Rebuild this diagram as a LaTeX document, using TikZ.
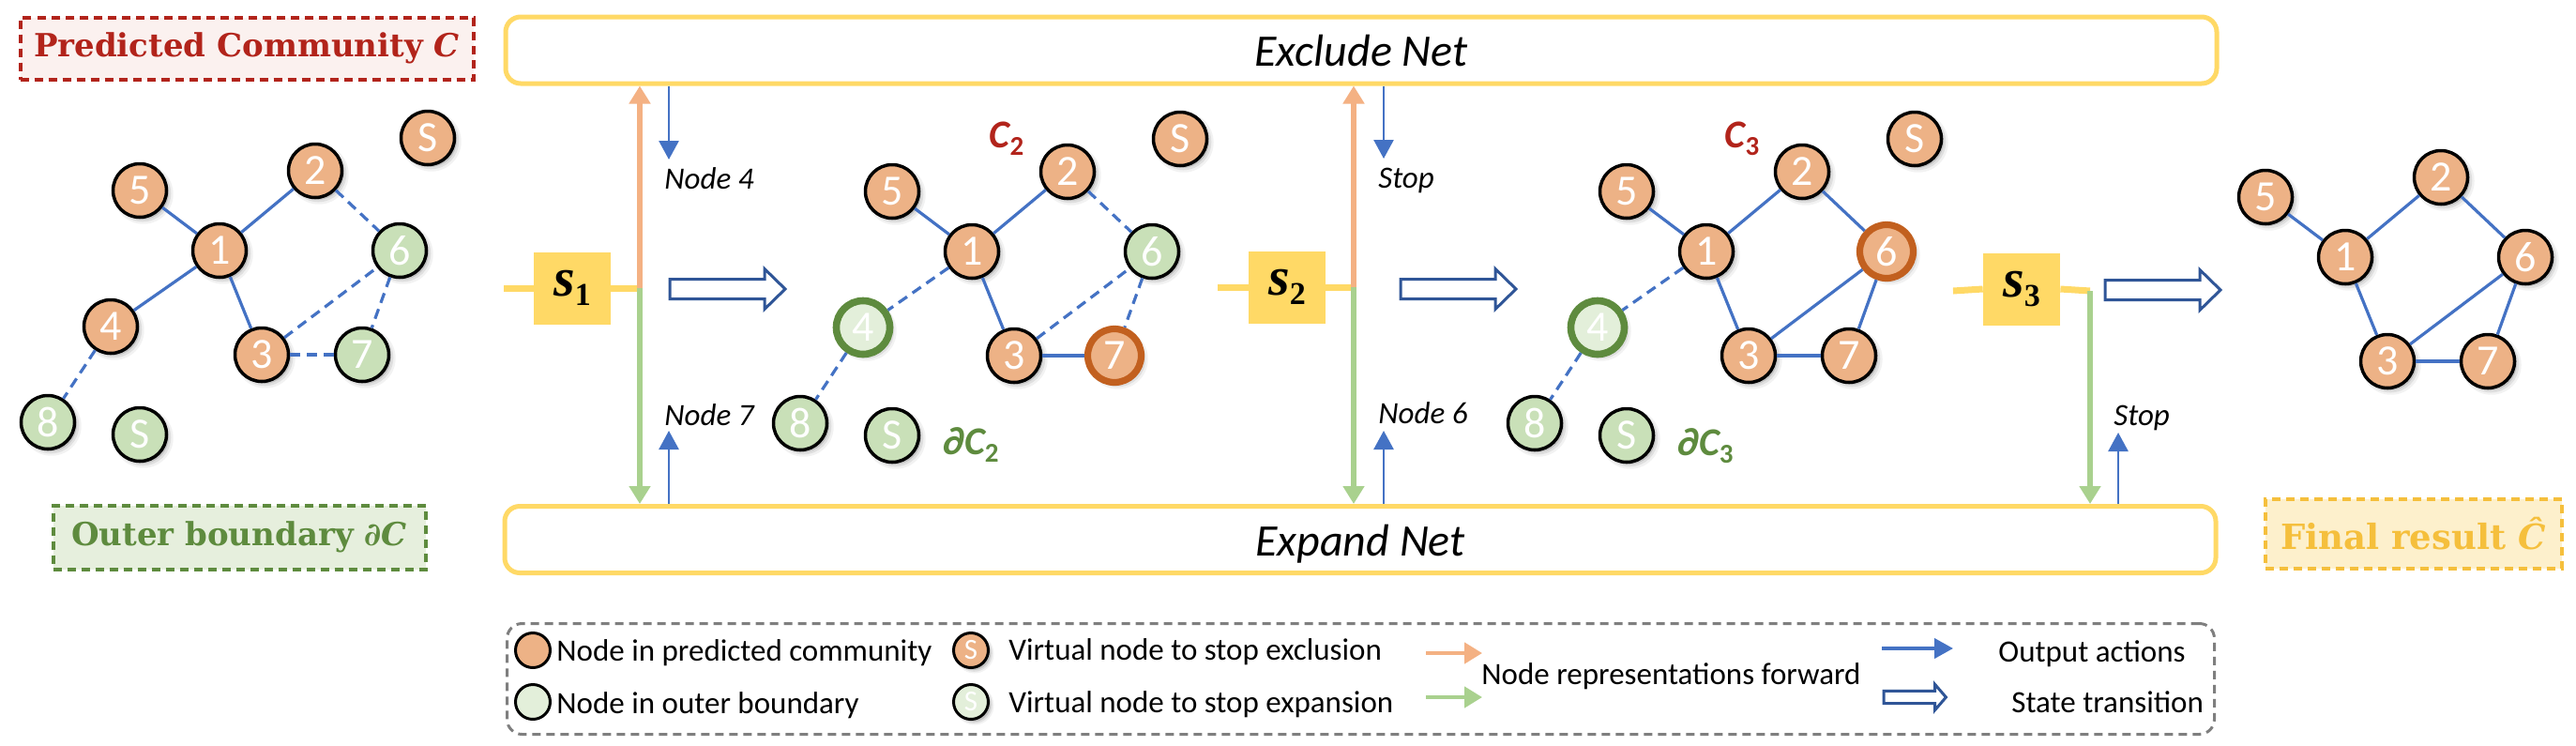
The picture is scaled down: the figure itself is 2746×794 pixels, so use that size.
\documentclass[tikz,border=0pt]{standalone}
\usepackage{fontspec}
\setmainfont{Carlito}
\newfontfamily\dvsfont{DejaVu Serif}
\newfontfamily\libfont{Liberation Serif}
\usetikzlibrary{arrows.meta,shadows,calc}

\definecolor{norange}{HTML}{EDB286}
\definecolor{ngreen}{HTML}{C9E0B8}
\definecolor{nlgreen}{HTML}{E3EFDA}
\definecolor{dgreen}{HTML}{5E8B3E}
\definecolor{dorange}{HTML}{C2601F}
\definecolor{eblue}{HTML}{4472C4}
\definecolor{dblue}{HTML}{2F5597}
\definecolor{ygold}{HTML}{FFD966}
\definecolor{dred}{HTML}{B2241B}
\definecolor{arrorange}{HTML}{F4B183}
\definecolor{arrgreen}{HTML}{A9D18E}
\definecolor{fgold}{HTML}{F5BF3C}
\definecolor{ffill}{HTML}{FDF0CC}
\definecolor{pfill}{HTML}{FBF1EF}
\definecolor{gfill}{HTML}{E6EFDD}
\definecolor{lgray}{HTML}{7F7F7F}

\newcommand\setfs[1]{\fontsize{#1}{#1}\selectfont}
\newcommand\mlab[2]{{\itshape #1}\raisebox{-4pt}{\upshape\setfs{14.5pt}#2}}

\tikzset{
  softshadow/.style={
    drop shadow={shadow xshift=1.7pt,shadow yshift=-1.7pt,shadow scale=1.12,opacity=.05,fill=black},
    drop shadow={shadow xshift=1.6pt,shadow yshift=-1.6pt,shadow scale=1.05,opacity=.08,fill=black},
    drop shadow={shadow xshift=1.4pt,shadow yshift=-1.4pt,shadow scale=0.99,opacity=.12,fill=black}},
  gnode/.style={circle, draw=black, line width=1.75pt, minimum size=28.5pt, inner sep=0pt,
    text=white, font=\setfs{23pt}, softshadow},
  pnode/.style={gnode, fill=norange},
  bnode/.style={gnode, fill=ngreen},
  pselnode/.style={gnode, fill=norange, draw=dorange, line width=3.6pt},
  bselnode/.style={gnode, fill=nlgreen, draw=dgreen, line width=3.8pt},
  edge/.style={eblue, line width=1.6pt},
  dedge/.style={edge, dash pattern=on 5.5pt off 3.5pt},
  sbox/.style={fill=ygold, minimum width=41pt, minimum height=38.5pt, inner sep=0pt},
  yline/.style={ygold, line width=3.5pt},
  netbox/.style={draw=ygold, line width=2.5pt, rounded corners=8pt, fill=white,
    minimum width=912pt, minimum height=35.5pt, inner sep=0pt},
  nettext/.style={font=\itshape\setfs{24pt}, anchor=base, inner sep=0pt},
  oarr/.style={arrorange, line width=2.6pt, -{Triangle[width=11pt,length=9.5pt]}},
  garr/.style={arrgreen, line width=2.6pt, -{Triangle[width=11pt,length=9.5pt]}},
  barr/.style={eblue, line width=1.3pt, -{Triangle[width=10.5pt,length=10pt]}},
  hollow/.style={draw=dblue, line width=1.5pt, fill=white, line join=miter},
  actlab/.style={font=\itshape\setfs{16.5pt}, anchor=base west, inner sep=0pt},
  leg/.style={font=\setfs{16.5pt}, anchor=base west, inner sep=0pt},
  tagbox/.style={line width=2pt, dash pattern=on 4.5pt off 3pt, inner sep=0pt,
    font=\dvsfont\bfseries\setfs{17pt}},
  legnode/.style={circle, draw=black, line width=1.5pt, minimum size=18.5pt, inner sep=0pt},
  legS/.style={legnode, softshadow, text=white, font=\setfs{15.5pt}},
  statearrow/.pic={\draw[hollow] (0,-10.5) -- (101,-10.5) -- (101,-21.5) -- (123,0)
     -- (101,21.5) -- (101,10.5) -- (0,10.5) -- cycle;}
}

\begin{document}
\begin{tikzpicture}[x=0.5pt,y=-0.5pt]
\useasboundingbox (0,0) rectangle (2746,794);
\fill[white] (0,0) rectangle (2746,794);

% ---- side labels
\node[tagbox, draw=dred, fill=pfill, text=dred, minimum width=241.5pt, minimum height=33pt]
  (pc) at (263,51.5) {Predicted Community {\itshape C}};
\node[tagbox, draw=dgreen, fill=gfill, text=dgreen, minimum width=198.5pt, minimum height=34pt]
  (ob) at (255,572.5) {Outer boundary {\itshape ∂C}};
\node[tagbox, draw=fgold, fill=ffill, text=fgold, minimum width=158pt, minimum height=37pt,
  font=\dvsfont\bfseries\setfs{18.5pt}]
  (fr) at (2572.5,569) {Final result {\itshape Ĉ}};

% ---- nets
\node[netbox] (excl) at (1451,53.5) {};
\node[nettext] (exclt) at (1451,70) {Exclude Net};
\node[netbox] (expd) at (1450,575) {};
\node[nettext] (expdt) at (1450,592) {Expand Net};

% ---- legend
\node[draw=lgray, line width=1.5pt, dash pattern=on 4.5pt off 3pt, rounded corners=8pt,
  minimum width=910pt, minimum height=59pt, inner sep=0pt] (legend) at (1450.5,723.5) {};
\node[legnode, fill=norange] (lgp) at (568,693) {};
\node[leg] (lgpt) at (593,704) {Node in predicted community};
\node[legnode, fill=nlgreen] (lgb) at (568,748) {};
\node[leg] (lgbt) at (593,760) {Node in outer boundary};
\node[legS, fill=norange] (lso) at (1035,693) {S};
\node[leg] (lsot) at (1075,703) {Virtual node to stop exclusion};
\node[legS, fill=nlgreen] (lsg) at (1035,748) {S};
\node[leg] (lsgt) at (1075,759) {Virtual node to stop expansion};
\coordinate (lo1) at (1520,696); \coordinate (lo2) at (1580,696);
\draw[oarr, line width=2.2pt] (lo1) -- (lo2);
\coordinate (lg1) at (1520,743); \coordinate (lg2) at (1580,743);
\draw[garr, line width=2.2pt] (lg1) -- (lg2);
\node[leg] (lnrt) at (1579,729) {Node representations forward};
\coordinate (lb1) at (2006,691); \coordinate (lb2) at (2082,691);
\draw[barr, line width=2pt] (lb1) -- (lb2);
\node[leg] (loat) at (2130,705) {Output actions};
\pic[xscale=0.54, yscale=0.64] at (2008,743) {statearrow};
\node[leg] (lstt) at (2144,759) {State transition};

% ---- state 1
\node[sbox] (s1) at (610,307) {\libfont\bfseries\itshape\setfs{29pt}s\raisebox{-5pt}{\upshape\setfs{17pt}1}};
\coordinate (l1) at (537,307);
\coordinate (j1) at (682,307);
\draw[yline] (l1) -- (s1.west);
\draw[yline] (s1.east) -- (j1);
\draw[oarr] (j1) -- (j1 |- excl.south);
\draw[garr] (j1) -- (j1 |- expd.north);
\coordinate (b1d) at (713,170);
\coordinate (b1u) at (713,459);
\draw[barr] (b1d |- excl.south) -- (b1d);
\draw[barr] (b1u |- expd.north) -- (b1u);
\node[actlab] (t1a) at (708,201.5) {Node 4};
\node[actlab] (t1b) at (708,453.5) {Node 7};
\pic at (714,308) {statearrow};

% ---- state 2
\node[sbox] (s2) at (1372,306) {\libfont\bfseries\itshape\setfs{29pt}s\raisebox{-5pt}{\upshape\setfs{17pt}2}};
\coordinate (l2) at (1298,306);
\coordinate (j2) at (1443,306);
\draw[yline] (l2) -- (s2.west);
\draw[yline] (s2.east) -- (j2);
\draw[oarr] (j2) -- (j2 |- excl.south);
\draw[garr] (j2) -- (j2 |- expd.north);
\coordinate (b2d) at (1475,169);
\coordinate (b2u) at (1475,459);
\draw[barr] (b2d |- excl.south) -- (b2d);
\draw[barr] (b2u |- expd.north) -- (b2u);
\node[actlab] (t2a) at (1469,200) {Stop};
\node[actlab] (t2b) at (1469,451) {Node 6};
\pic at (1493,308) {statearrow};

% ---- state 3
\node[sbox] (s3) at (2155,308) {\libfont\bfseries\itshape\setfs{29pt}s\raisebox{-5pt}{\upshape\setfs{17pt}3}};
\coordinate (l3) at (2082,310);
\coordinate (j3) at (2228,310);
\draw[yline] (l3) -- (s3.west);
\draw[yline] (s3.east) -- (j3);
\draw[garr] (j3) -- (j3 |- expd.north);
\coordinate (b3u) at (2258,461);
\draw[barr] (b3u |- expd.north) -- (b3u);
\node[actlab] (t3b) at (2253,453) {Stop};
\pic at (2244,309) {statearrow};

% ---- graph 1 (initial)
\begin{scope}[name prefix=a-]
\node[pnode] (S) at (456,147) {S};
\node[pnode] (2) at (336,182) {2};
\node[pnode] (5) at (149,203) {5};
\node[pnode] (1) at (234,267) {1};
\node[bnode] (6) at (426,267) {6};
\node[pnode] (4) at (118,348) {4};
\node[pnode] (3) at (279,378) {3};
\node[bnode] (7) at (386,378) {7};
\node[bnode] (8) at (51,450) {8};
\node[bnode] (Sg) at (149,463) {S};
\draw[edge] (5) -- (1);
\draw[edge] (1) -- (2);
\draw[edge] (1) -- (4);
\draw[edge] (1) -- (3);
\draw[dedge] (2) -- (6);
\draw[dedge] (3) -- (6);
\draw[dedge] (6) -- (7);
\draw[dedge] (3) -- (7);
\draw[dedge] (4) -- (8);
\end{scope}

% ---- graph 2
\begin{scope}[shift={(802,1)}, name prefix=b-]
\node[pnode] (S) at (456,147) {S};
\node[pnode] (2) at (336,182) {2};
\node[pnode] (5) at (149,203) {5};
\node[pnode] (1) at (234,267) {1};
\node[bnode] (6) at (426,267) {6};
\node[bselnode] (4) at (118,348) {4};
\node[pnode] (3) at (279,378) {3};
\node[pselnode] (7) at (386,378) {7};
\node[bnode] (8) at (51,450) {8};
\node[bnode] (Sg) at (149,463) {S};
\draw[edge] (5) -- (1);
\draw[edge] (1) -- (2);
\draw[edge] (1) -- (3);
\draw[edge] (3) -- (7);
\draw[dedge] (1) -- (4);
\draw[dedge] (2) -- (6);
\draw[dedge] (3) -- (6);
\draw[dedge] (6) -- (7);
\draw[dedge] (4) -- (8);
\node[font=\bfseries\setfs{21pt}, text=dred, inner sep=0pt] (lab) at (271,147) {\mlab{C}{2}};
\node[font=\bfseries\setfs{21pt}, text=dgreen, inner sep=0pt] (blab) at (233,473) {\mlab{∂C}{2}};
\end{scope}

% ---- graph 3
\begin{scope}[shift={(1585,1)}, name prefix=c-]
\node[pnode] (S) at (456,147) {S};
\node[pnode] (2) at (336,182) {2};
\node[pnode] (5) at (149,203) {5};
\node[pnode] (1) at (234,267) {1};
\node[pselnode] (6) at (426,267) {6};
\node[bselnode] (4) at (118,348) {4};
\node[pnode] (3) at (279,378) {3};
\node[pnode] (7) at (386,378) {7};
\node[bnode] (8) at (51,450) {8};
\node[bnode] (Sg) at (149,463) {S};
\draw[edge] (5) -- (1);
\draw[edge] (1) -- (2);
\draw[edge] (2) -- (6);
\draw[edge] (1) -- (3);
\draw[edge] (3) -- (6);
\draw[edge] (6) -- (7);
\draw[edge] (3) -- (7);
\draw[dedge] (1) -- (4);
\draw[dedge] (4) -- (8);
\node[font=\bfseries\setfs{21pt}, text=dred, inner sep=0pt] (lab) at (272,147) {\mlab{C}{3}};
\node[font=\bfseries\setfs{21pt}, text=dgreen, inner sep=0pt] (blab) at (233,474) {\mlab{∂C}{3}};
\end{scope}

% ---- final graph
\begin{scope}[shift={(2266,7)}, name prefix=d-]
\node[pnode] (2) at (336,182) {2};
\node[pnode] (5) at (149,203) {5};
\node[pnode] (1) at (234,267) {1};
\node[pnode] (6) at (426,267) {6};
\node[pnode] (3) at (279,378) {3};
\node[pnode] (7) at (386,378) {7};
\draw[edge] (5) -- (1);
\draw[edge] (1) -- (2);
\draw[edge] (2) -- (6);
\draw[edge] (1) -- (3);
\draw[edge] (3) -- (6);
\draw[edge] (6) -- (7);
\draw[edge] (3) -- (7);
\end{scope}
\end{tikzpicture}
\end{document}
